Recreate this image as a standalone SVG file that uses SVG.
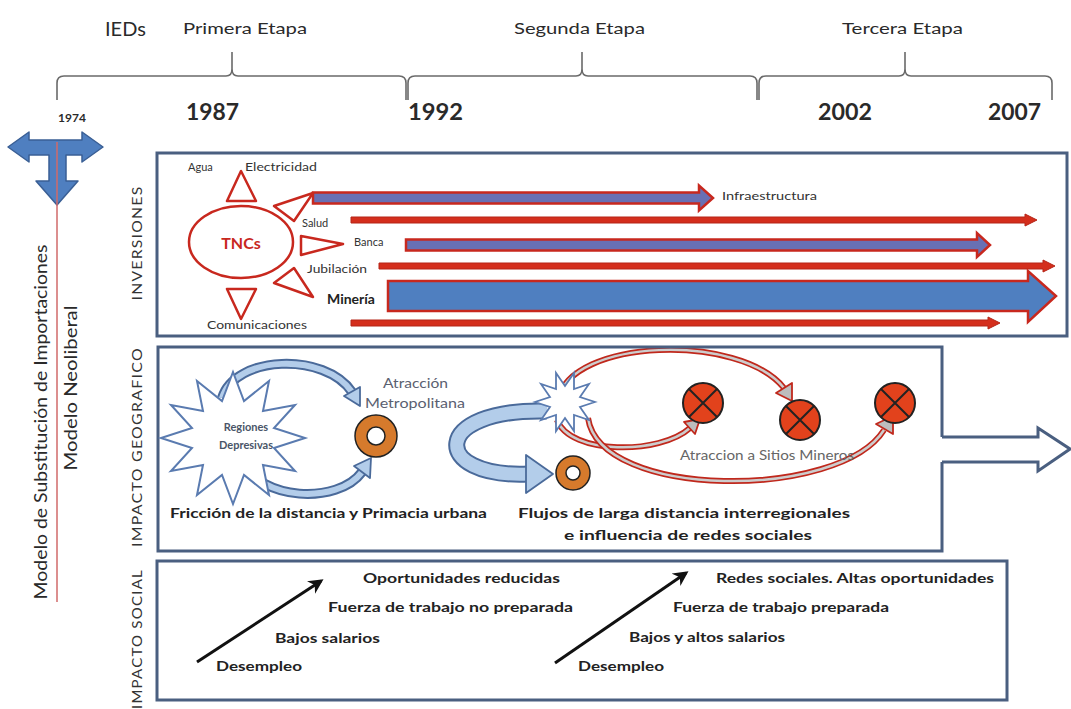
<svg xmlns="http://www.w3.org/2000/svg" width="1071" height="709" viewBox="0 0 1071 709">
<defs>
<style>
text{font-family:Lato,"Open Sans","Liberation Sans",sans-serif;fill:#2a2a2a}
.b{font-weight:bold}
.box{fill:none;stroke:#4a5f80;stroke-width:3}
.brace{fill:none;stroke:#6a6a6a;stroke-width:1.6}
.tri{fill:#fff;stroke:#c8281e;stroke-width:2.5;stroke-linejoin:round}
.lbl{font-size:11px;fill:#333}
.rline{fill:#d42e1c;stroke:#b52417;stroke-width:1}
.barrow{fill:#6870b4;stroke:#c8281e;stroke-width:2.5}
.blueo{fill:none;stroke:#4a6a9a}
.bluei{fill:none;stroke:#b3cdea}
.bhead{fill:#b3cdea;stroke:#4a6a9a;stroke-width:1.8;stroke-linejoin:round}
.redo{fill:none;stroke:#c0281c;stroke-width:6}
.redi{fill:none;stroke:#cdcdcd;stroke-width:2.5}
.rhead{fill:#bdbdbd;stroke:#c0281c;stroke-width:1.8;stroke-linejoin:round}
.ring{fill:#d67a2c;stroke:#222;stroke-width:1.5;fill-rule:evenodd}
.mine{fill:#e2421c;stroke:#222;stroke-width:2}
.x{stroke:#222;stroke-width:2}
.soc{font-size:14px;font-weight:bold;fill:#222}
.side{font-size:12.5px;fill:#333;letter-spacing:1px}
.geo{font-size:13px;fill:#5a6070}
</style>
<marker id="ah" viewBox="0 0 10 10" refX="8" refY="5" markerWidth="5" markerHeight="5" orient="auto">
<path d="M0,0 L10,5 L0,10 L3,5 Z" fill="#111"/>
</marker>
</defs>
<rect width="1071" height="709" fill="#fff"/>

<g id="timeline">
<text x="105" y="36" style="font-size:20px">IEDs</text>
<text x="183" y="34" style="font-size:15px" textLength="124" lengthAdjust="spacingAndGlyphs">Primera Etapa</text>
<text x="514" y="34" style="font-size:15px" textLength="131" lengthAdjust="spacingAndGlyphs">Segunda Etapa</text>
<text x="842" y="34" style="font-size:15px" textLength="121" lengthAdjust="spacingAndGlyphs">Tercera Etapa</text>
<path class="brace" d="M57,100 L57,83 Q57,76 64,76 L226,76 Q232,76 232,69 L232,52 L232,69 Q232,76 238,76 L399,76 Q406,76 406,83 L406,100"/>
<path class="brace" d="M408,100 L408,83 Q408,76 415,76 L576,76 Q582,76 582,69 L582,52 L582,69 Q582,76 588,76 L750,76 Q757,76 757,83 L757,100"/>
<path class="brace" d="M759,100 L759,83 Q759,76 766,76 L899,76 Q905,76 905,69 L905,52 L905,69 Q905,76 911,76 L1045,76 Q1052,76 1052,83 L1052,100"/>
<text x="58" y="122" class="b" style="font-size:12px">1974</text>
<text x="186" y="120" class="b" style="font-size:22px" textLength="53" lengthAdjust="spacingAndGlyphs">1987</text>
<text x="408" y="120" class="b" style="font-size:22px" textLength="55" lengthAdjust="spacingAndGlyphs">1992</text>
<text x="818" y="120" class="b" style="font-size:22px" textLength="54" lengthAdjust="spacingAndGlyphs">2002</text>
<text x="988" y="120" class="b" style="font-size:22px" textLength="53" lengthAdjust="spacingAndGlyphs">2007</text>
</g>

<g id="model-axis">
<polygon points="8,147 29,132 29,140 82,140 82,132 103,147 82,162 82,155 66,155 66,181 78,181 57,205 36,181 49,181 49,155 29,155 29,162" fill="#4f7fc0" stroke="#3a5f95" stroke-width="1.5" stroke-linejoin="round"/>
<line x1="57" y1="142" x2="57" y2="602" stroke="#d06a6a" stroke-width="1.5"/>
<text transform="translate(47,422) rotate(-90)" text-anchor="middle" style="font-size:18px" textLength="355" lengthAdjust="spacingAndGlyphs">Modelo de Substitución de Importaciones</text>
<text transform="translate(77,388) rotate(-90)" text-anchor="middle" style="font-size:18px" textLength="165" lengthAdjust="spacingAndGlyphs">Modelo Neoliberal</text>
</g>

<g id="section-labels">
<text class="side" transform="translate(142,243) rotate(-90)" text-anchor="middle" textLength="115" lengthAdjust="spacingAndGlyphs">INVERSIONES</text>
<text class="side" transform="translate(142,447) rotate(-90)" text-anchor="middle" textLength="200" lengthAdjust="spacingAndGlyphs">IMPACTO  GEOGRAFICO</text>
<text class="side" transform="translate(142,639) rotate(-90)" text-anchor="middle" textLength="140" lengthAdjust="spacingAndGlyphs">IMPACTO  SOCIAL</text>
</g>

<g id="inversiones">
<rect class="box" x="157" y="153" width="910" height="183"/>
<g id="tncs">
<ellipse cx="241" cy="242" rx="52" ry="36" fill="#fff" stroke="#c8281e" stroke-width="2.5"/>
<text x="241" y="249" text-anchor="middle" class="b" style="font-size:16px;fill:#c8281e">TNCs</text>
</g>
<polygon class="tri" points="241,171 227,201 256,201"/>
<polygon class="tri" points="274,206 313,193 294,221"/>
<polygon class="tri" points="301,236 343,244 301,255"/>
<polygon class="tri" points="274,283 294,268 313,297"/>
<polygon class="tri" points="227,289 256,289 241,319"/>
<text class="lbl" x="188" y="171">Agua</text>
<text class="lbl" x="245" y="171" textLength="72" lengthAdjust="spacingAndGlyphs">Electricidad</text>
<text class="lbl" x="302" y="227">Salud</text>
<text class="lbl" x="354" y="246">Banca</text>
<text class="lbl" x="307" y="273" textLength="60" lengthAdjust="spacingAndGlyphs">Jubilación</text>
<text class="b" x="327" y="304" style="font-size:14px;fill:#222">Minería</text>
<text class="lbl" x="207" y="329" textLength="100" lengthAdjust="spacingAndGlyphs">Comunicaciones</text>
<text class="lbl" x="722" y="200" textLength="95" lengthAdjust="spacingAndGlyphs">Infraestructura</text>
</g>

<g id="connectors">
<polygon class="barrow" points="313,192.5 699,192.5 699,185.5 713,198 699,210.5 699,203.5 313,203.5"/>
<polygon class="rline" points="351,217 1025,217 1025,214 1037,220 1025,226 1025,223 351,223"/>
<polygon class="barrow" points="406,239.5 977,239.5 977,233 990,245 977,257 977,250.5 406,250.5"/>
<polygon class="rline" points="379,263 1043,263 1043,260 1055,266 1043,272 1043,269 379,269"/>
<polygon points="388,281 1028,281 1028,271 1056,296 1028,322 1028,311 388,311" fill="#4f7fc0" stroke="#c8281e" stroke-width="2.5"/>
<polygon class="rline" points="351,320 988,320 988,317 1000,323 988,329 988,326 351,326"/>

<path class="blueo" stroke-width="10" d="M222,398 C235,355 325,352 352,392"/>
<path class="bluei" stroke-width="6" d="M222,398 C235,355 325,352 352,392"/>
<polygon class="bhead" points="360,406 360,387 344,396"/>
<path class="blueo" stroke-width="10" d="M245,462 C258,500 338,505 362,472"/>
<path class="bluei" stroke-width="6" d="M245,462 C258,500 338,505 362,472"/>
<polygon class="bhead" points="371,458 370,478 354,466"/>

<path class="blueo" stroke-width="17" d="M547,411 C430,408 430,478 528,474"/>
<path class="bluei" stroke-width="13" d="M547,411 C430,408 430,478 528,474"/>
<polygon class="bhead" points="526,455 553,474 526,493"/>

<path class="redo" d="M558,400 C570,338 740,333 784,388"/>
<path class="redi" d="M558,400 C570,338 740,333 784,388"/>
<polygon class="rhead" points="792,401 792,383 776,393"/>
<path class="redo" d="M557,420 C570,455 660,455 690,428"/>
<path class="redi" d="M557,420 C570,455 660,455 690,428"/>
<polygon class="rhead" points="700,419 695,434 684,422"/>
<path class="redo" d="M588,418 C600,500 840,500 884,430"/>
<path class="redi" d="M588,418 C600,500 840,500 884,430"/>
<polygon class="rhead" points="893,416 893,434 876,424"/>
</g>

<g id="impacto-geografico">
<path class="box" d="M942,437 V347 H158 V551 H942 V462"/>
<polyline points="942,437 1038,437 1038,428 1070,449 1038,471 1038,462 942,462" fill="#fff" stroke="#4a5f80" stroke-width="3" stroke-linejoin="miter"/>
<g id="regiones-depresivas">
<polygon points="305,438 274,448 295,471 263,465 269,495 244,475 233,504 222,475 197,495 203,465 171,471 192,448 161,438 192,428 171,405 203,411 197,381 222,401 233,372 244,401 269,381 263,411 295,405 274,428" fill="#fff" stroke="#5a7bb0" stroke-width="2" stroke-linejoin="miter"/>
<text x="246" y="431" text-anchor="middle" class="b" style="font-size:11px;fill:#4a5568">Regiones</text>
<text x="246" y="449" text-anchor="middle" class="b" style="font-size:11px;fill:#4a5568">Depresivas</text>
</g>
<g id="atraccion-metropolitana">
<path class="ring" d="M397,436 A21,21 0 1 1 355,436 A21,21 0 1 1 397,436 Z M385,436 A9,9 0 1 0 367,436 A9,9 0 1 0 385,436 Z"/>
<text class="geo" x="383" y="388" textLength="65" lengthAdjust="spacingAndGlyphs">Atracción</text>
<text class="geo" x="365" y="408" textLength="100" lengthAdjust="spacingAndGlyphs">Metropolitana</text>
</g>
<g id="small-star">
<polygon points="595,402 580,407 589,420 574,415 574,431 565,418 556,431 556,415 541,420 550,407 535,402 550,397 541,384 556,389 556,373 565,386 574,373 574,389 589,384 580,397" fill="#fff" stroke="#5a7bb0" stroke-width="1.8"/>
</g>
<g id="small-ring">
<path class="ring" d="M590,473 A17,17 0 1 1 556,473 A17,17 0 1 1 590,473 Z M580,473 A7,7 0 1 0 566,473 A7,7 0 1 0 580,473 Z"/>
</g>
<g id="sitio1"><circle class="mine" cx="703" cy="403" r="20"/><path class="x" d="M689,389 L717,417 M717,389 L689,417"/></g>
<g id="sitio2"><circle class="mine" cx="800" cy="420" r="20"/><path class="x" d="M786,406 L814,434 M814,406 L786,434"/></g>
<g id="sitio3"><circle class="mine" cx="895" cy="403" r="20"/><path class="x" d="M881,389 L909,417 M909,389 L881,417"/></g>
<text class="geo" x="680" y="460" textLength="174" lengthAdjust="spacingAndGlyphs" style="fill:#666">Atraccion a Sitios Mineros</text>
<text class="b" x="170" y="518" style="font-size:14px;fill:#222" textLength="317" lengthAdjust="spacingAndGlyphs">Fricción de la distancia y Primacia urbana</text>
<text class="b" x="684" y="518" text-anchor="middle" style="font-size:14px;fill:#222" textLength="332" lengthAdjust="spacingAndGlyphs">Flujos de larga distancia interregionales</text>
<text class="b" x="688" y="540" text-anchor="middle" style="font-size:14px;fill:#222" textLength="248" lengthAdjust="spacingAndGlyphs">e influencia de redes  sociales</text>
</g>

<g id="impacto-social">
<rect class="box" x="157" y="561" width="850" height="139"/>
<line x1="197" y1="662" x2="321" y2="581" stroke="#111" stroke-width="3" marker-end="url(#ah)"/>
<line x1="555" y1="663" x2="686" y2="573" stroke="#111" stroke-width="3" marker-end="url(#ah)"/>
<text class="soc" x="363" y="583" textLength="197" lengthAdjust="spacingAndGlyphs">Oportunidades reducidas</text>
<text class="soc" x="328" y="612" textLength="245" lengthAdjust="spacingAndGlyphs">Fuerza de trabajo no preparada</text>
<text class="soc" x="275" y="643" textLength="105" lengthAdjust="spacingAndGlyphs">Bajos salarios</text>
<text class="soc" x="216" y="671" textLength="86" lengthAdjust="spacingAndGlyphs">Desempleo</text>
<text class="soc" x="716" y="583" textLength="278" lengthAdjust="spacingAndGlyphs">Redes sociales. Altas oportunidades</text>
<text class="soc" x="673" y="612" textLength="216" lengthAdjust="spacingAndGlyphs">Fuerza de trabajo preparada</text>
<text class="soc" x="629" y="642" textLength="156" lengthAdjust="spacingAndGlyphs">Bajos y altos salarios</text>
<text class="soc" x="578" y="671" textLength="86" lengthAdjust="spacingAndGlyphs">Desempleo</text>
</g>
</svg>
